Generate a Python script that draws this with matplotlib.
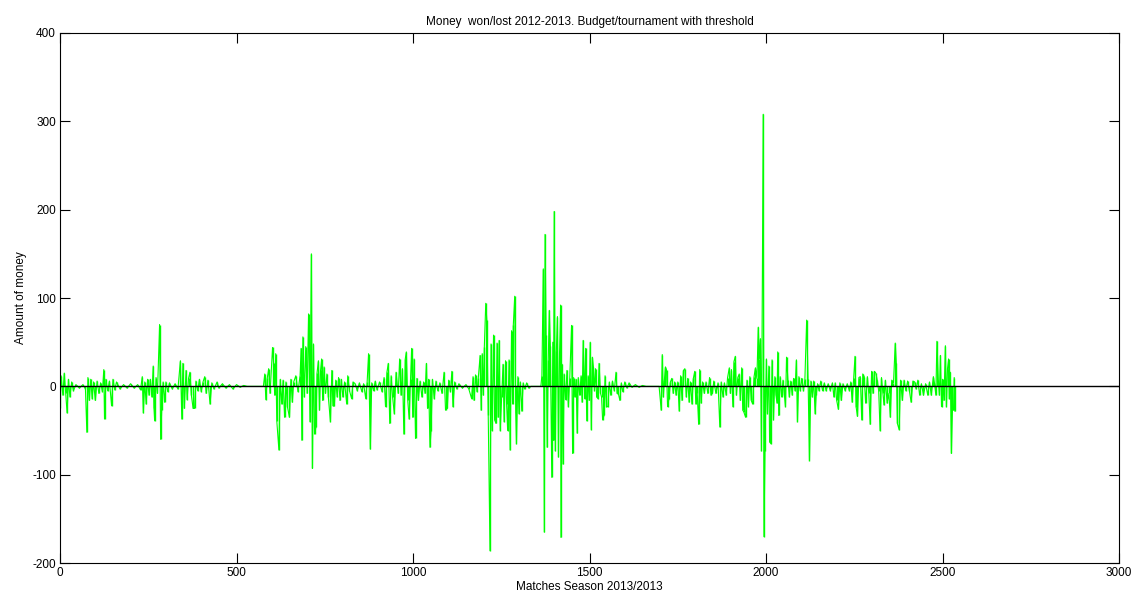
import matplotlib
matplotlib.use("Agg")
import matplotlib.pyplot as plt
import numpy as np

# money won/lost per match as (match, amount)
early = [(0, -25), (3, 12), (8, -10), (12, 15), (16, -8), (20, -30), (24, 8), (28, -12),
         (33, 5), (38, -5), (45, 2), (55, -2), (65, 2), (72, -3), (76, -52), (79, 10),
         (83, -16), (87, 8), (91, -14), (95, 5), (100, -16), (105, 6), (110, -8), (115, 4),
         (120, -6), (124, 19), (126, -37), (130, 8), (135, -5), (140, 6), (146, -22), (150, 8),
         (155, -4), (160, 5), (170, -3), (180, 2), (190, -2), (200, 3), (210, -2), (220, 2),
         (228, -4), (233, 11), (236, -30), (240, 5), (244, -20), (248, 8), (252, -10), (256, 8),
         (260, -12), (264, 23), (266, -24), (268, -39), (272, 10), (276, -8), (282, 70), (285, -60),
         (288, -27), (292, 5), (296, -18), (300, 5), (305, -6), (310, 4), (318, -3), (326, 3),
         (334, -3), (341, 29), (345, -37), (348, 26), (352, -25), (357, 18), (360, -15), (364, 9),
         (368, 16), (372, -10), (377, -25), (381, -25), (385, 6), (390, -5), (395, 8), (400, -6),
         (405, 5), (410, 11), (414, -8), (419, 7), (425, -20), (430, 4), (436, -3), (445, 5),
         (450, -2), (460, 3), (470, -2), (480, 2), (490, -3), (500, 2), (510, -1), (520, 1),
         (530, 0), (576, 0)]

middle = [(580, 14), (583, -15), (587, 9), (591, 20), (595, -8), (602, 44), (605, 26), (608, -10),
          (611, 37), (614, -39), (620, -72), (624, 8), (628, -20), (632, 7), (636, -35), (640, 5),
          (644, -23), (650, -35), (654, 8), (658, -18), (662, 5), (668, 12), (674, -6), (680, 12),
          (683, 43), (685, -61), (688, 56), (692, -12), (696, 45), (700, -8), (704, 82), (708, -40),
          (712, 150), (715, -93), (718, 48), (721, -54), (725, -46), (728, 15), (732, 29), (735, -27),
          (738, 18), (741, 31), (744, -16), (748, 22), (752, -8), (756, 14), (760, -12), (766, -40),
          (770, 18), (773, -22), (777, -22), (781, 7), (785, -12), (789, 10), (793, -16), (797, 8),
          (801, -12), (806, 5), (812, -20), (815, 12), (820, -5), (826, -14), (830, 5), (836, 3),
          (842, -5), (848, 4), (855, -6), (860, 3), (866, -14), (870, 5), (874, 37), (879, -71),
          (883, 4), (888, -5), (893, 6), (898, -4), (905, 5), (912, -6), (918, 10), (922, -23),
          (926, 16), (930, 26), (934, -42), (938, 12), (942, -12), (947, -31), (952, 16), (958, -8),
          (962, 31), (966, -10), (970, 20), (974, -54), (978, 31), (981, 39), (985, -16), (989, -37),
          (993, 8), (996, 43), (999, -35), (1003, 31), (1007, -59), (1011, 9), (1015, -16), (1020, 6),
          (1025, -12), (1030, 5), (1034, -8), (1038, 26), (1041, -25), (1044, 8), (1048, -69), (1051, -50),
          (1055, 8), (1060, -14), (1065, 6), (1070, -5), (1076, 4), (1082, -8), (1088, 16), (1092, -27),
          (1097, -25), (1101, 7), (1106, -6), (1110, 17), (1113, -23), (1118, 5), (1124, -3), (1130, 3),
          (1140, -2), (1150, 2), (1158, -3), (1166, -14), (1170, 11), (1173, -16), (1177, 13), (1181, -6),
          (1185, 10), (1190, 35), (1193, -27), (1196, 37), (1199, -10), (1202, 45), (1206, 94), (1209, 75),
          (1213, -33), (1218, -186), (1221, 48), (1224, -50), (1228, 58), (1231, -38), (1235, -42), (1238, 49),
          (1241, -35), (1244, 52), (1247, -50), (1251, -12), (1255, 25), (1258, -40), (1262, 29), (1265, -20),
          (1268, -50), (1272, 30), (1275, -72), (1279, 63), (1282, -20), (1284, 69), (1288, 102), (1291, -30),
          (1293, -65), (1297, 11), (1300, -31), (1304, 5), (1308, -28), (1312, 4), (1316, -3), (1322, 4),
          (1328, -2), (1334, 0), (1362, 0), (1365, 12), (1369, 133), (1372, -165), (1374, 172), (1377, 58),
          (1380, -69), (1383, 30), (1386, 86), (1389, 46), (1393, -103), (1396, 50), (1398, -61), (1400, 198),
          (1403, -73), (1406, 40), (1409, 79), (1412, -80), (1415, 37), (1418, 92), (1419, -171), (1422, 25),
          (1425, -88), (1428, 14), (1432, -15), (1436, 18), (1440, -23), (1444, 10), (1449, 69), (1452, -76),
          (1455, 10), (1458, -12), (1462, 8), (1465, -53), (1468, 10), (1472, -10), (1476, 12), (1479, -18),
          (1482, 52), (1486, -14), (1489, 43), (1492, -39), (1496, 12), (1499, -16), (1502, 50), (1505, -49),
          (1508, 33), (1511, 22), (1514, -5), (1517, 20), (1520, -12), (1524, -14), (1527, 26), (1531, -8),
          (1534, -12), (1537, -38), (1541, -33), (1544, 12), (1548, -23), (1552, -23), (1556, 5), (1560, -10),
          (1565, 6), (1570, -5), (1575, 16), (1578, -8), (1582, -9), (1586, -16), (1590, 4), (1594, -6),
          (1600, 5), (1606, -2), (1612, 4), (1620, -1), (1630, 2), (1640, -1), (1650, 1), (1660, 0),
          (1697, 0)]

late = [(1703, -27), (1706, 36), (1709, -12), (1712, 7), (1715, 22), (1718, 19), (1721, -23), (1725, -14),
        (1729, 5), (1733, 9), (1737, -8), (1741, 5), (1745, -10), (1750, 5), (1754, -28), (1758, 12),
        (1762, -16), (1766, 18), (1770, 20), (1774, -12), (1778, 9), (1782, -18), (1786, 5), (1790, -20),
        (1794, 9), (1798, 17), (1801, -20), (1805, -8), (1809, -43), (1812, 19), (1816, -19), (1820, 5),
        (1825, -8), (1830, 5), (1835, -8), (1840, 10), (1844, -10), (1848, -8), (1852, 6), (1858, -8),
        (1864, 4), (1869, -46), (1873, 5), (1878, -12), (1882, 4), (1887, -10), (1891, 10), (1896, 21),
        (1899, -8), (1902, 19), (1906, -23), (1909, 28), (1913, 34), (1916, -10), (1920, 10), (1924, 14),
        (1927, -16), (1931, 21), (1934, -27), (1937, -29), (1942, -35), (1946, 7), (1950, -23), (1954, 11),
        (1958, -16), (1962, -20), (1966, 11), (1970, 21), (1974, 9), (1978, 67), (1981, 31), (1984, 54),
        (1987, -73), (1992, 308), (1994, -170), (1997, -73), (2001, 31), (2004, -31), (2008, 23), (2010, -63),
        (2014, -65), (2017, 30), (2021, -38), (2025, 11), (2028, -10), (2031, -19), (2033, 39), (2036, -33),
        (2040, 11), (2044, -12), (2048, 7), (2052, -10), (2055, -23), (2058, 33), (2062, 7), (2066, -12),
        (2070, 6), (2074, -10), (2078, 9), (2082, -5), (2086, 30), (2089, -40), (2093, 11), (2097, -5),
        (2101, 9), (2106, -5), (2110, 8), (2115, 75), (2119, 8), (2123, -84), (2127, 6), (2131, -12),
        (2135, 6), (2139, -31), (2142, -10), (2146, 3), (2150, -5), (2155, 6), (2160, -5), (2165, 4),
        (2170, -5), (2176, 3), (2182, -5), (2188, 4), (2192, -12), (2196, 4), (2200, -16), (2205, -26),
        (2209, 4), (2213, -16), (2218, 3), (2224, -5), (2230, 3), (2236, -5), (2240, 5), (2244, -18),
        (2248, 9), (2252, 34), (2255, -23), (2259, -34), (2263, 10), (2267, 11), (2271, -38), (2274, 14),
        (2278, 11), (2282, -19), (2287, 11), (2291, -8), (2295, -43), (2299, 17), (2303, -8), (2307, 17),
        (2311, 15), (2315, 7), (2319, -5), (2323, -50), (2327, 10), (2331, -8), (2334, -21), (2338, 7),
        (2343, -19), (2348, -8), (2352, -35), (2356, 7), (2361, 4), (2366, 49), (2369, 26), (2372, -42),
        (2377, -49), (2381, 7), (2386, -16), (2391, 7), (2396, -5), (2401, 6), (2406, -5), (2411, -18),
        (2416, 6), (2421, 5), (2425, -3), (2430, 7), (2435, -10), (2440, 3), (2446, -10), (2452, 3),
        (2458, -10), (2463, 5), (2468, -10), (2474, 11), (2477, 4), (2481, -10), (2484, 51), (2488, 7),
        (2491, -10), (2494, 35), (2497, -23), (2500, 8), (2504, -16), (2508, 46), (2511, -23), (2514, 20),
        (2517, 31), (2519, -14), (2522, 16), (2525, -76), (2528, -27), (2531, -27), (2533, 10), (2535, -28)]

x_ticks = [0, 500, 1000, 1500, 2000, 2500, 3000]
y_ticks = [-200, -100, 0, 100, 200, 300, 400]

plt.rcParams['font.family'] = ['Liberation Sans', 'DejaVu Sans']
plt.rcParams['font.size'] = 8.5
plt.rcParams['axes.unicode_minus'] = False

fig = plt.figure(figsize=(11.39, 6.03), dpi=100)
ax = fig.add_axes([0.0527, 0.0663, 0.9298, 0.879])

matches, money = np.array(early + middle + late).T
# trace plus vertical strokes from zero, to get the dense look of the per-match original
ax.plot(matches, money, color='#00ff00', lw=0.8)
ax.vlines(matches, 0, money, color='#00ff00', lw=1.0)
ax.plot([x_ticks[0], x_ticks[-1]], [0, 0], color='black', lw=1.0)

ax.set_xlim(x_ticks[0], x_ticks[-1])
ax.set_ylim(y_ticks[0], y_ticks[-1])
ax.set_xticks(x_ticks)
ax.set_yticks(y_ticks)
ax.tick_params(direction='in', top=True, right=True, length=7, width=0.8, pad=3)
for s in ax.spines.values():
    s.set_linewidth(0.8)

ax.set_title('Money  won/lost 2012-2013. Budget/tournament with threshold', fontsize=8.5, pad=6)
ax.set_xlabel('Matches Season 2013/2013', fontsize=8.5, labelpad=1)
ax.set_ylabel('Amount of money', fontsize=8.5, labelpad=4)

fig.savefig('out.png', dpi=100)
